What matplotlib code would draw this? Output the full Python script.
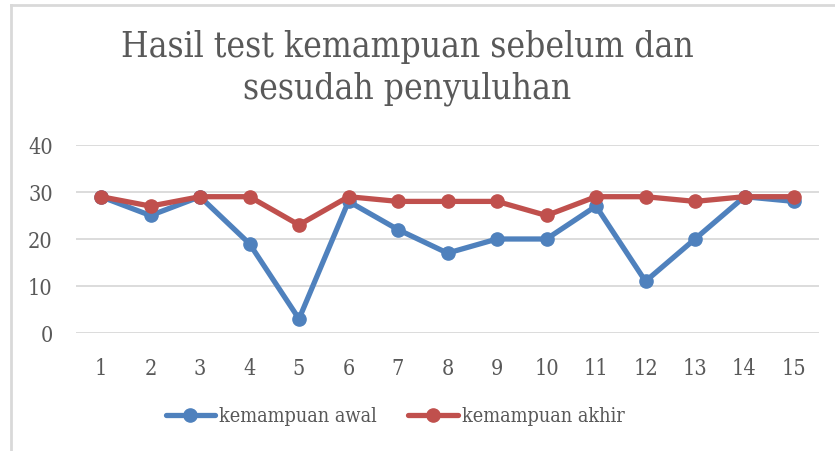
import matplotlib
matplotlib.use("Agg")
import matplotlib.pyplot as plt
from matplotlib.lines import Line2D

categories = [str(i) for i in range(1, 16)]
kemampuan_awal = [29, 25, 29, 19, 3, 28, 22, 17, 20, 20, 27, 11, 20, 29, 28]
kemampuan_akhir = [29, 27, 29, 29, 23, 29, 28, 28, 28, 25, 29, 29, 28, 29, 29]
y_ticks = [0, 10, 20, 30, 40]
title = "Hasil test kemampuan sebelum dan\nsesudah penyuluhan"

W, H = 835, 452
plt.rcParams['font.family'] = ['DejaVu Serif']
plt.rcParams['font.stretch'] = 'condensed'
fig = plt.figure(figsize=(W / 100, H / 100), dpi=100)
text_color = "#595959"
blue = "#4F81BD"
red = "#C0504D"

# Outer border (top and left visible)
fig.add_artist(Line2D([10.5 / W, 1.0], [1 - 5.5 / H, 1 - 5.5 / H], transform=fig.transFigure,
                      color="#D9D9D9", lw=2))
fig.add_artist(Line2D([10.5 / W, 10.5 / W], [0, 1 - 5.5 / H], transform=fig.transFigure,
                      color="#D9D9D9", lw=2))

left, right = 76.25 / W, 818.75 / W
bottom, top = 1 - 334 / H, 1 - 146 / H
ax = fig.add_axes([left, bottom, right - left, top - bottom])

x = list(range(1, len(categories) + 1))
ax.plot(x, kemampuan_awal, color=blue, lw=3.8, marker="o", markersize=9.5, label="kemampuan awal",
        solid_capstyle="round", zorder=3)
ax.plot(x, kemampuan_akhir, color=red, lw=3.8, marker="o", markersize=9.5, label="kemampuan akhir",
        solid_capstyle="round", zorder=4)

ax.set_xlim(0.5, len(categories) + 0.5)
ax.set_ylim(0, 40)
ax.set_yticks(y_ticks)
ax.set_xticks(x)
ax.set_xticklabels(categories)
ax.grid(axis="y", color="#D9D9D9", lw=1.3)
ax.set_axisbelow(True)
for s in ax.spines.values():
    s.set_visible(False)
ax.tick_params(axis="both", length=0, labelsize=15.5, colors=text_color, labelcolor=text_color)
ax.tick_params(axis="y", pad=17)
ax.tick_params(axis="x", pad=17)

fig.text(407 / W, 1 - 68 / H, title, ha="center", va="center", fontsize=25.3, color=text_color,
         linespacing=1.25)

leg = fig.legend(loc="center", bbox_to_anchor=(395 / W, 1 - 417 / H), ncol=2, frameon=False,
                 fontsize=14.2, handlelength=2.5, handletextpad=0.2, columnspacing=1.6,
                 labelcolor=text_color)

fig.savefig("out.png", dpi=100, facecolor="white")
